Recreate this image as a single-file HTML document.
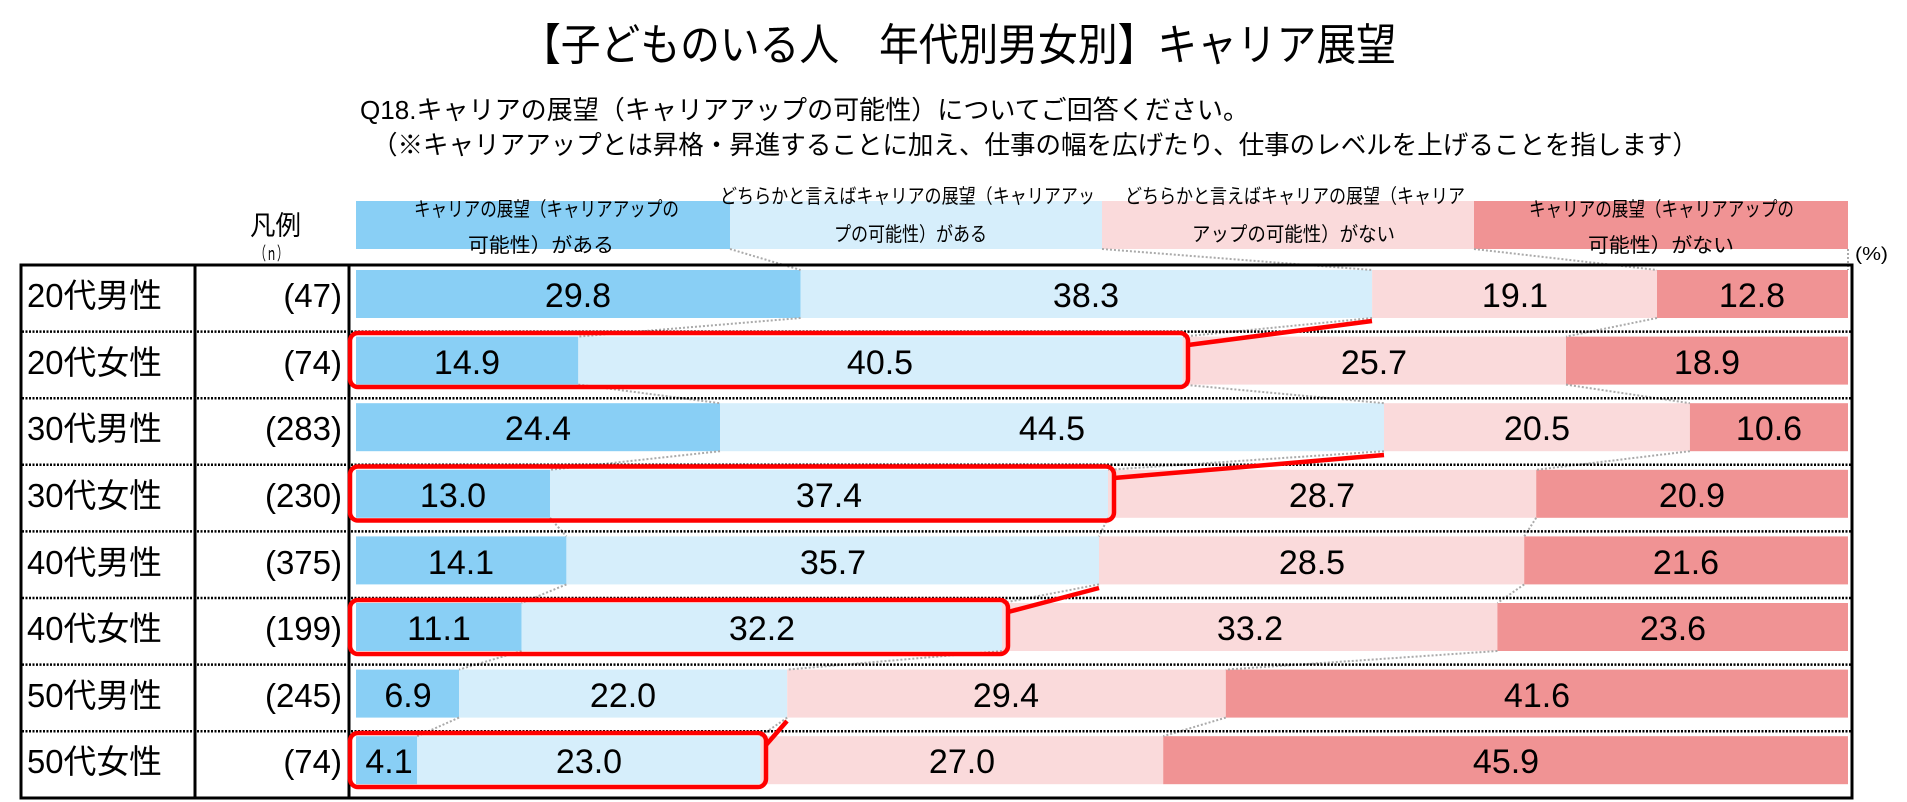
<!DOCTYPE html>
<html><head><meta charset="utf-8"><style>
html,body{margin:0;padding:0;background:#fff;width:1907px;height:802px;overflow:hidden}
svg text{font-family:"Liberation Sans","Noto Sans CJK JP",sans-serif;fill:#000}
</style></head><body>
<svg width="1907" height="802" viewBox="0 0 1907 802" xmlns="http://www.w3.org/2000/svg">
<text x="521" y="60" font-size="44" textLength="875" lengthAdjust="spacingAndGlyphs">【子どものいる人　年代別男女別】キャリア展望</text>
<text x="360" y="119" font-size="26" textLength="889" lengthAdjust="spacingAndGlyphs">Q18.キャリアの展望（キャリアアップの可能性）についてご回答ください。</text>
<text x="372" y="154" font-size="26" textLength="1326" lengthAdjust="spacingAndGlyphs">（※キャリアアップとは昇格・昇進することに加え、仕事の幅を広げたり、仕事のレベルを上げることを指します）</text>
<!-- legend -->
<rect x="356" y="201" width="374" height="48" fill="#89CFF5"/>
<rect x="730" y="201" width="372" height="48" fill="#D6EEFB"/>
<rect x="1102" y="201" width="372" height="48" fill="#FADADB"/>
<rect x="1474" y="201" width="374" height="48" fill="#F09394"/>
<g font-size="20">
<text x="414" y="216" textLength="265" lengthAdjust="spacingAndGlyphs">キャリアの展望（キャリアアップの</text><text x="468" y="252" textLength="146" lengthAdjust="spacingAndGlyphs">可能性）がある</text>
<text x="720" y="203" textLength="375" lengthAdjust="spacingAndGlyphs">どちらかと言えばキャリアの展望（キャリアアッ</text><text x="834" y="241" textLength="153" lengthAdjust="spacingAndGlyphs">プの可能性）がある</text>
<text x="1125" y="203" textLength="340" lengthAdjust="spacingAndGlyphs">どちらかと言えばキャリアの展望（キャリア</text><text x="1192" y="241" textLength="203" lengthAdjust="spacingAndGlyphs">アップの可能性）がない</text>
<text x="1529" y="216" textLength="265" lengthAdjust="spacingAndGlyphs">キャリアの展望（キャリアアップの</text><text x="1588" y="252" textLength="146" lengthAdjust="spacingAndGlyphs">可能性）がない</text>
<text x="250" y="235" font-size="27" textLength="51" lengthAdjust="spacingAndGlyphs">凡例</text>
<text x="255" y="260" font-size="18" textLength="33" lengthAdjust="spacingAndGlyphs">（ｎ）</text>
<text x="1855" y="260" font-size="18" textLength="33" lengthAdjust="spacingAndGlyphs">(%)</text>
</g>
<!-- bars -->
<g>
<rect x="356" y="270" width="444.6" height="48" fill="#89CFF5"/><rect x="800.6" y="270" width="571.5" height="48" fill="#D6EEFB"/><rect x="1372.1" y="270" width="284.9" height="48" fill="#FADADB"/><rect x="1657" y="270" width="191" height="48" fill="#F09394"/>
<rect x="356" y="336.6" width="222.3" height="48" fill="#89CFF5"/><rect x="578.3" y="336.6" width="604.3" height="48" fill="#D6EEFB"/><rect x="1182.6" y="336.6" width="383.4" height="48" fill="#FADADB"/><rect x="1566" y="336.6" width="282" height="48" fill="#F09394"/>
<rect x="356" y="403.2" width="364" height="48" fill="#89CFF5"/><rect x="720" y="403.2" width="664" height="48" fill="#D6EEFB"/><rect x="1384" y="403.2" width="305.9" height="48" fill="#FADADB"/><rect x="1689.9" y="403.2" width="158.1" height="48" fill="#F09394"/>
<rect x="356" y="469.8" width="194" height="48" fill="#89CFF5"/><rect x="550" y="469.8" width="558" height="48" fill="#D6EEFB"/><rect x="1108" y="469.8" width="428.2" height="48" fill="#FADADB"/><rect x="1536.2" y="469.8" width="311.8" height="48" fill="#F09394"/>
<rect x="356" y="536.4" width="210.4" height="48" fill="#89CFF5"/><rect x="566.4" y="536.4" width="532.6" height="48" fill="#D6EEFB"/><rect x="1099" y="536.4" width="425.2" height="48" fill="#FADADB"/><rect x="1524.2" y="536.4" width="323.8" height="48" fill="#F09394"/>
<rect x="356" y="603" width="165.6" height="48" fill="#89CFF5"/><rect x="521.6" y="603" width="480.4" height="48" fill="#D6EEFB"/><rect x="1002" y="603" width="495.4" height="48" fill="#FADADB"/><rect x="1497.4" y="603" width="350.6" height="48" fill="#F09394"/>
<rect x="356" y="669.6" width="103" height="48" fill="#89CFF5"/><rect x="459" y="669.6" width="328.2" height="48" fill="#D6EEFB"/><rect x="787.2" y="669.6" width="438.6" height="48" fill="#FADADB"/><rect x="1225.8" y="669.6" width="622.2" height="48" fill="#F09394"/>
<rect x="356" y="736.2" width="61.2" height="48" fill="#89CFF5"/><rect x="417.2" y="736.2" width="343.1" height="48" fill="#D6EEFB"/><rect x="760.3" y="736.2" width="402.9" height="48" fill="#FADADB"/><rect x="1163.2" y="736.2" width="684.8" height="48" fill="#F09394"/>
</g>
<!-- gray connectors -->
<g stroke="#aaa" stroke-width="2" stroke-dasharray="2,2" fill="none">
<path d="M730 249L800.6 270M1102 249L1372.1 270M1474 249L1657 270M1848 249L1848 270"/>
<path d="M800.6 318L578.3 336.6M1372.1 318L1182.6 336.6M1657 318L1566 336.6"/>
<path d="M578.3 384.6L720 403.2M1182.6 384.6L1384 403.2M1566 384.6L1689.9 403.2"/>
<path d="M720 451.2L550 469.8M1384 451.2L1108 469.8M1689.9 451.2L1536.2 469.8"/>
<path d="M550 517.8L566.4 536.4M1108 517.8L1099 536.4M1536.2 517.8L1524.2 536.4"/>
<path d="M566.4 584.4L521.6 603M1099 584.4L1002 603M1524.2 584.4L1497.4 603"/>
<path d="M521.6 651L459 669.6M1002 651L787.2 669.6M1497.4 651L1225.8 669.6"/>
<path d="M459 717.6L417.2 736.2M787.2 717.6L760.3 736.2M1225.8 717.6L1163.2 736.2"/>
</g>
<!-- table lines -->
<g stroke="#000" stroke-width="2.5" stroke-dasharray="2,1.5" fill="none">
<path d="M22 331.6H1852M22 398.2H1852M22 464.8H1852M22 531.4H1852M22 598H1852M22 664.6H1852M22 731.2H1852"/>
</g>
<rect x="21" y="265" width="1831" height="533" fill="none" stroke="#000" stroke-width="3"/>
<path d="M195 265V798M349 265V798" stroke="#000" stroke-width="3"/>
<!-- red boxes -->
<g stroke="#f00" stroke-width="4.5" fill="none">
<rect x="350" y="333" width="838" height="54" rx="8"/><path d="M1372 321L1188 345"/>
<rect x="350" y="466.5" width="764" height="54" rx="8"/><path d="M1384 455L1114 478"/>
<rect x="350" y="600" width="658" height="54" rx="8"/><path d="M1099 588L1008 612"/>
<rect x="350" y="733" width="416" height="54" rx="8"/><path d="M787 721L766 745"/>
</g>
<!-- labels -->
<g font-size="33">
<text x="27" y="307" textLength="135" lengthAdjust="spacingAndGlyphs">20代男性</text><text x="27" y="374" textLength="135" lengthAdjust="spacingAndGlyphs">20代女性</text><text x="27" y="440" textLength="135" lengthAdjust="spacingAndGlyphs">30代男性</text><text x="27" y="507" textLength="135" lengthAdjust="spacingAndGlyphs">30代女性</text>
<text x="27" y="574" textLength="135" lengthAdjust="spacingAndGlyphs">40代男性</text><text x="27" y="640" textLength="135" lengthAdjust="spacingAndGlyphs">40代女性</text><text x="27" y="707" textLength="135" lengthAdjust="spacingAndGlyphs">50代男性</text><text x="27" y="773" textLength="135" lengthAdjust="spacingAndGlyphs">50代女性</text>
</g>
<g font-size="33" text-anchor="end">
<text x="342" y="307">(47)</text><text x="342" y="374">(74)</text><text x="342" y="440">(283)</text><text x="342" y="507">(230)</text>
<text x="342" y="574">(375)</text><text x="342" y="640">(199)</text><text x="342" y="707">(245)</text><text x="342" y="773">(74)</text>
</g>
<g font-size="34" text-anchor="middle">
<text x="578" y="307">29.8</text><text x="1086" y="307">38.3</text><text x="1515" y="307">19.1</text><text x="1752" y="307">12.8</text>
<text x="467" y="374">14.9</text><text x="880" y="374">40.5</text><text x="1374" y="374">25.7</text><text x="1707" y="374">18.9</text>
<text x="538" y="440">24.4</text><text x="1052" y="440">44.5</text><text x="1537" y="440">20.5</text><text x="1769" y="440">10.6</text>
<text x="453" y="507">13.0</text><text x="829" y="507">37.4</text><text x="1322" y="507">28.7</text><text x="1692" y="507">20.9</text>
<text x="461" y="574">14.1</text><text x="833" y="574">35.7</text><text x="1312" y="574">28.5</text><text x="1686" y="574">21.6</text>
<text x="439" y="640">11.1</text><text x="762" y="640">32.2</text><text x="1250" y="640">33.2</text><text x="1673" y="640">23.6</text>
<text x="408" y="707">6.9</text><text x="623" y="707">22.0</text><text x="1006" y="707">29.4</text><text x="1537" y="707">41.6</text>
<text x="389" y="773">4.1</text><text x="589" y="773">23.0</text><text x="962" y="773">27.0</text><text x="1506" y="773">45.9</text>
</g>
</svg>
</body></html>
